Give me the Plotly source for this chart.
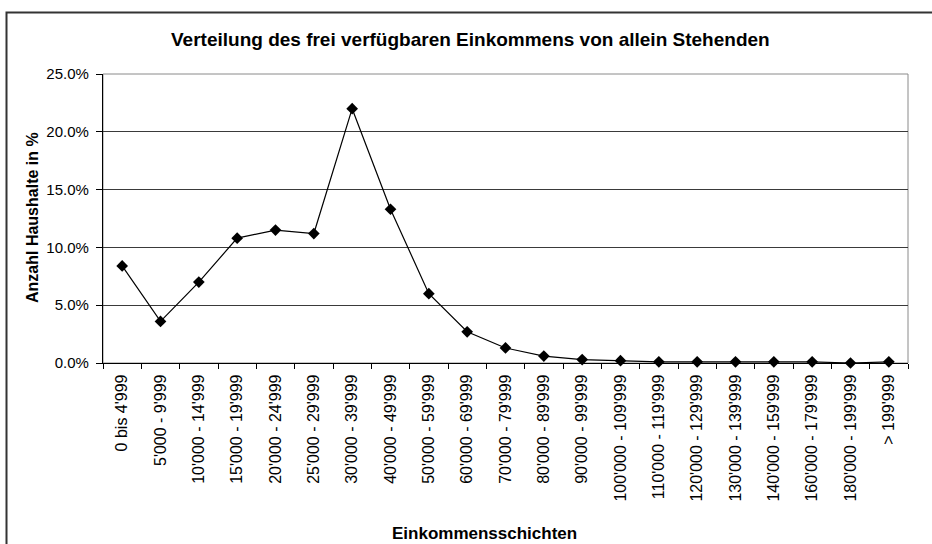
import plotly.graph_objects as go

categories = ["0 bis 4'999", "5'000 - 9'999", "10'000 - 14'999", "15'000 - 19'999",
              "20'000 - 24'999", "25'000 - 29'999", "30'000 - 39'999", "40'000 - 49'999",
              "50'000 - 59'999", "60'000 - 69'999", "70'000 - 79'999", "80'000 - 89'999",
              "90'000 - 99'999", "100'000 - 109'999", "110'000 - 119'999", "120'000 - 129'999",
              "130'000 - 139'999", "140'000 - 159'999", "160'000 - 179'999", "180'000 - 199'999",
              "> 199'999"]
share_pct = [8.4, 3.6, 7.0, 10.8, 11.5, 11.2, 22.0, 13.3, 6.0, 2.7, 1.3, 0.6,
             0.3, 0.2, 0.1, 0.1, 0.1, 0.1, 0.1, 0.0, 0.1]
y_ticks = [0, 0.05, 0.10, 0.15, 0.20, 0.25]

title_text = "Verteilung des frei verfügbaren Einkommens von allein Stehenden"
x_title = "Einkommensschichten"
y_title = "Anzahl Haushalte in %"

FONT = "Liberation Sans, Arial, sans-serif"
W, H = 932, 544
L, R, T, B = 103, 24, 74, 181
pw, ph = W - L - R, H - T - B

def px_x(x):
    return (x - L) / pw

def px_y(y):
    return (H - B - y) / ph

fig = go.Figure()
fig.add_trace(go.Scatter(
    x=categories, y=[v / 100 for v in share_pct],
    mode="lines+markers",
    line=dict(color="black", width=1.2),
    marker=dict(symbol="diamond", size=9, color="black"),
    showlegend=False, cliponaxis=False,
))

fig.update_layout(
    width=W, height=H, autosize=False,
    margin=dict(l=L, r=R, t=T, b=B),
    paper_bgcolor="white", plot_bgcolor="white",
    font=dict(family=FONT, color="black", size=14),
    xaxis=dict(
        type="category", range=[-0.5, len(categories) - 0.5],
        showline=True, linecolor="black", linewidth=1.2,
        ticks="outside", tickson="boundaries", ticklen=5, tickcolor="black",
        tickangle=-90, tickfont=dict(size=16, family=FONT),
        ticklabelstandoff=4,
        showgrid=False, zeroline=False,
    ),
    yaxis=dict(
        range=[0, 0.25], tickvals=y_ticks, tickformat=".1%",
        showline=True, linecolor="black", linewidth=1.2,
        ticks="outside", ticklen=6, tickcolor="black",
        tickfont=dict(size=15, family=FONT),
        ticklabelstandoff=4,
        showgrid=True, gridcolor="#3a3a3a", gridwidth=1,
        zeroline=False,
    ),
    shapes=[
        dict(type="rect", xref="paper", yref="paper", x0=0, x1=1, y0=0, y1=1,
             line=dict(color="#8a8a8a", width=1), layer="below"),
        dict(type="rect", xref="paper", yref="paper",
             x0=px_x(6.5), x1=px_x(940), y0=px_y(12.5), y1=px_y(560),
             line=dict(color="#333333", width=2)),
    ],
    annotations=[
        dict(text="<b>" + title_text + "</b>", xref="paper", yref="paper",
             x=px_x(470), y=px_y(40), showarrow=False,
             font=dict(size=19, family=FONT), xanchor="center", yanchor="middle"),
        dict(text="<b>" + x_title + "</b>", xref="paper", yref="paper",
             x=px_x(484), y=px_y(533), showarrow=False,
             font=dict(size=17, family=FONT), xanchor="center", yanchor="middle"),
        dict(text="<b>" + y_title + "</b>", xref="paper", yref="paper",
             x=px_x(32), y=px_y(218), showarrow=False, textangle=-90,
             font=dict(size=16, family=FONT), xanchor="center", yanchor="middle"),
    ],
)

fig.write_html(
    "out.html",
    config={"displayModeBar": False},
    post_script="document.body.style.margin='0';document.body.style.overflow='hidden';",
)
